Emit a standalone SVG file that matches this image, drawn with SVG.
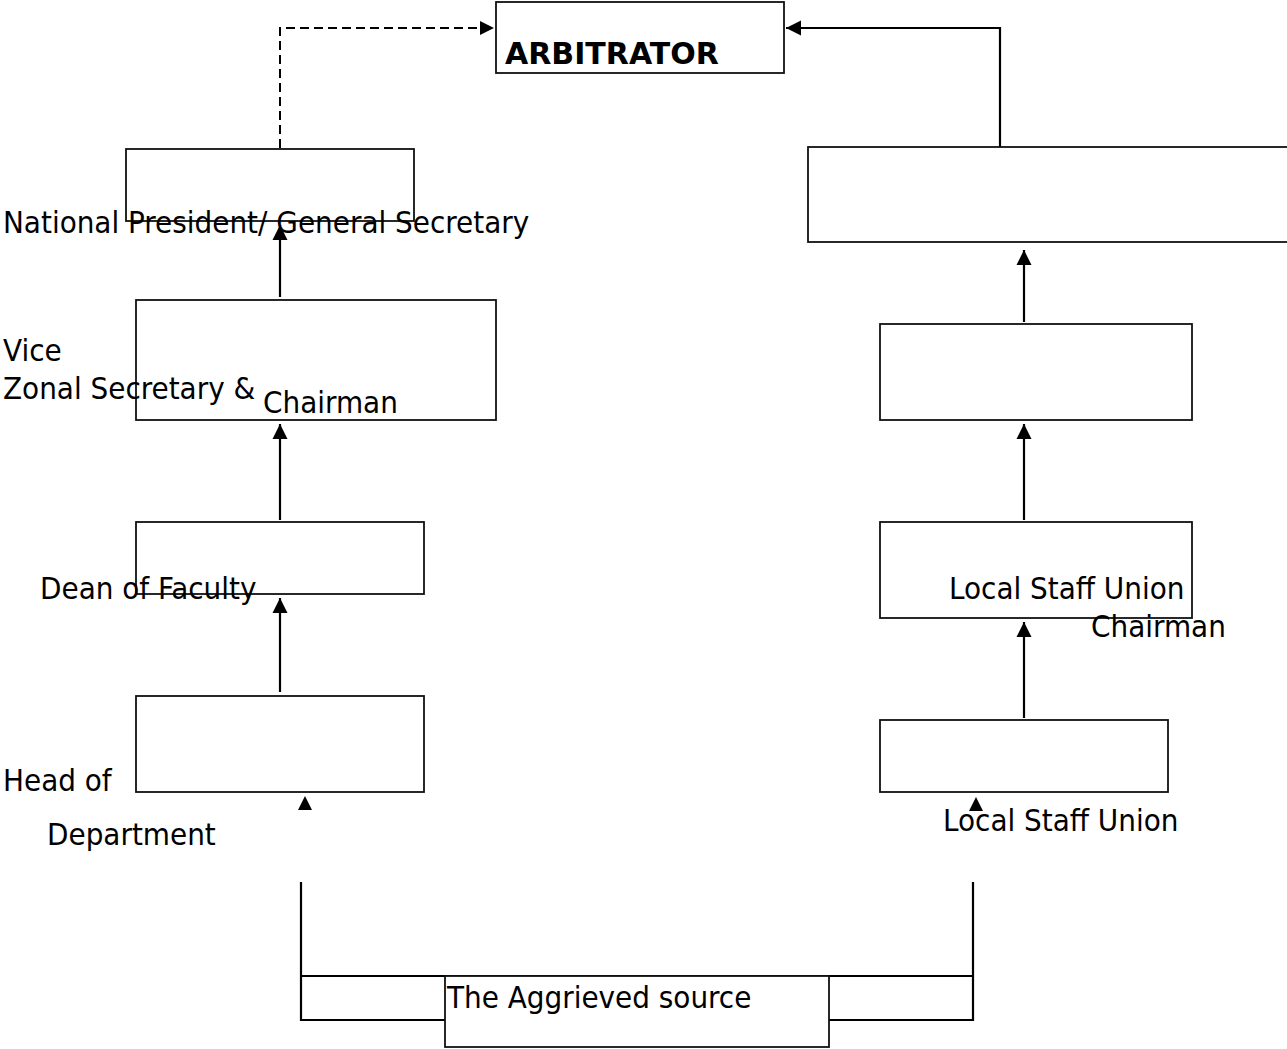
<svg xmlns="http://www.w3.org/2000/svg" width="1287" height="1049" viewBox="0 0 1287 1049">
  <style>
    .box { fill: #ffffff; stroke: #111111; stroke-width: 1.8; }
    .line { fill: none; stroke: #000000; stroke-width: 2.2; }
    .dash { fill: none; stroke: #000000; stroke-width: 2; stroke-dasharray: 9 5; }
    .lbl { font-family: "DejaVu Sans Condensed", "DejaVu Sans", sans-serif; font-stretch: condensed; font-size: 31px; fill: #000000; }
    .bold { font-family: "DejaVu Sans", sans-serif; font-stretch: normal; font-weight: bold; font-size: 30px; }
  </style>
  <defs>
    <marker id="arrow" viewBox="0 0 10 10" refX="10" refY="5" markerWidth="7" markerHeight="7" orient="auto" markerUnits="strokeWidth">
      <path d="M0,0 L10,5 L0,10 Z" fill="#000000"/>
    </marker>
  </defs>

  <rect width="1287" height="1049" fill="#ffffff"/>

  <!-- connectors -->
  <g id="connectors">
    <path class="dash" d="M280,148 V28 H494" marker-end="url(#arrow)"/>
    <path class="line" d="M1000,147 V28 H786" marker-end="url(#arrow)"/>
    <path class="line" d="M280,297 V225" marker-end="url(#arrow)"/>
    <path class="line" d="M280,520 V424" marker-end="url(#arrow)"/>
    <path class="line" d="M280,692 V598" marker-end="url(#arrow)"/>
    <path class="line" d="M1024,322 V250" marker-end="url(#arrow)"/>
    <path class="line" d="M1024,520 V424" marker-end="url(#arrow)"/>
    <path class="line" d="M1024,718 V622" marker-end="url(#arrow)"/>
    <polygon points="305,796 298,810 312,810" fill="#000000"/>
    <polygon points="976,797 969,811 983,811" fill="#000000"/>
    <path class="line" d="M301,882 V1020 H445 M301,976 H973 M973,882 V1020 H829"/>
  </g>

  <g id="arbitrator">
    <rect class="box" x="496" y="2" width="288" height="71"/>
    <text class="lbl bold" x="505" y="64">ARBITRATOR</text>
  </g>

  <g id="national-president">
    <rect class="box" x="126" y="149" width="288" height="72"/>
    <text class="lbl" x="3" y="233">National President/ General Secretary</text>
  </g>

  <g id="zonal-secretary">
    <rect class="box" x="136" y="300" width="360" height="120"/>
    <text class="lbl" x="3" y="361">Vice</text>
    <text class="lbl" x="3" y="399">Zonal Secretary &amp;</text>
    <text class="lbl" x="263" y="413">Chairman</text>
  </g>

  <g id="dean">
    <rect class="box" x="136" y="522" width="288" height="72"/>
    <text class="lbl" x="40" y="599">Dean of Faculty</text>
  </g>

  <g id="head-of-department">
    <rect class="box" x="136" y="696" width="288" height="96"/>
    <text class="lbl" x="3" y="791">Head of</text>
    <text class="lbl" x="47" y="845">Department</text>
  </g>

  <g id="right-top">
    <rect class="box" x="808" y="147" width="490" height="95"/>
  </g>

  <g id="right-upper">
    <rect class="box" x="880" y="324" width="312" height="96"/>
  </g>

  <g id="union-chairman">
    <rect class="box" x="880" y="522" width="312" height="96"/>
    <text class="lbl" x="949" y="599">Local Staff Union</text>
    <text class="lbl" x="1091" y="637">Chairman</text>
  </g>

  <g id="local-staff-union">
    <rect class="box" x="880" y="720" width="288" height="72"/>
    <text class="lbl" x="943" y="831">Local Staff Union</text>
  </g>

  <g id="aggrieved-source">
    <rect class="box" x="445" y="976" width="384" height="71"/>
    <text class="lbl" x="447" y="1008">The Aggrieved source</text>
  </g>
</svg>
